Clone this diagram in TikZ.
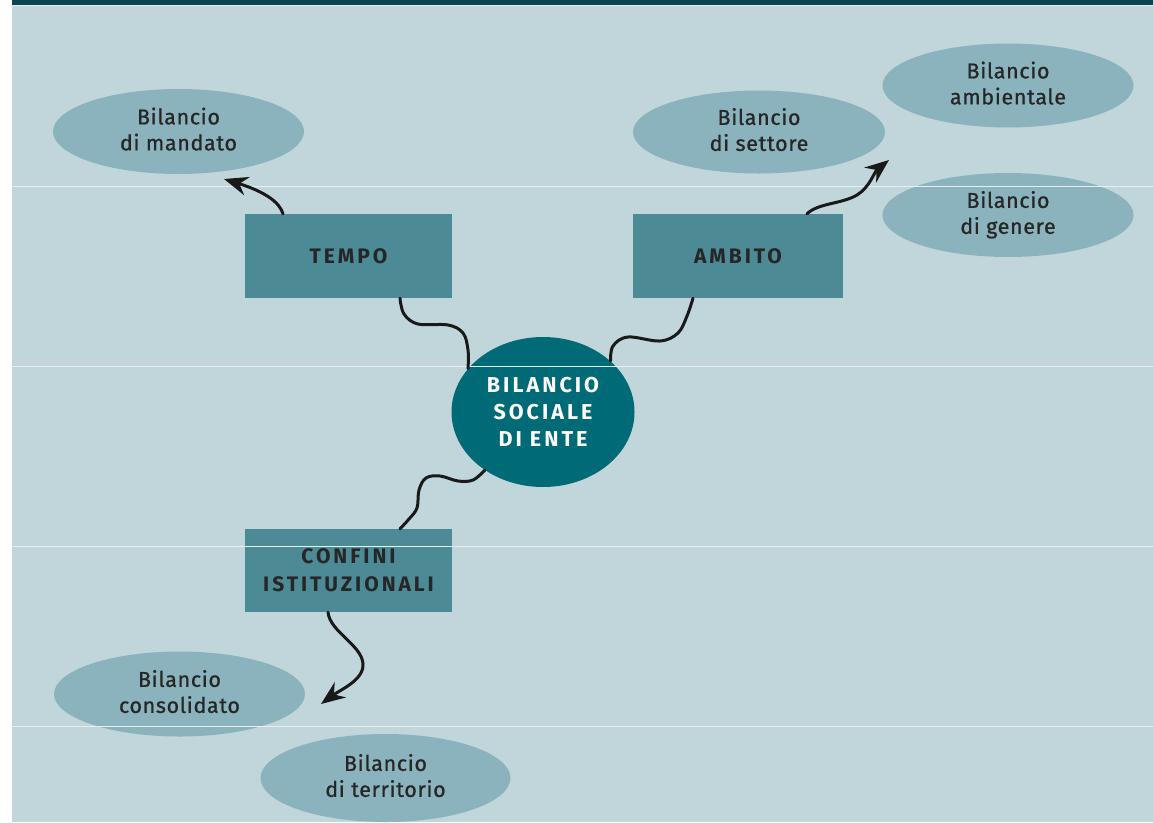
\documentclass[tikz,border=0pt]{standalone}
\usepackage{fontspec}
\setmainfont{Fira Sans}
\newfontfamily\ovalfont[LetterSpace=3,FakeBold=0.8]{Fira Sans}
\newfontfamily\capsfont[LetterSpace=14]{Fira Sans}
\usetikzlibrary{arrows.meta,calc,shapes.geometric}

\definecolor{panelbg}{HTML}{C1D6DB}
\definecolor{topbar}{HTML}{0B4450}
\definecolor{ovalfill}{HTML}{8BB3BD}
\definecolor{boxfill}{HTML}{4C8A96}
\definecolor{corefill}{HTML}{006B77}
\definecolor{inktext}{HTML}{262626}
\definecolor{rule}{HTML}{E6EEF0}

\tikzset{
  oval/.style={ellipse, fill=ovalfill, minimum width=251pt, minimum height=85pt,
    inner sep=0pt, text=inktext, align=center,
    font=\ovalfont\fontsize{21.5pt}{26pt}\selectfont,
    execute at end node={\rule[-5pt]{0pt}{5pt}}},
  topic/.style={rectangle, fill=boxfill, minimum width=207pt, minimum height=84pt,
    inner sep=0pt, text=inktext, align=center,
    font=\capsfont\bfseries\fontsize{21pt}{28pt}\selectfont},
  core/.style={ellipse, fill=corefill, minimum width=183pt, minimum height=150pt,
    inner sep=0pt, text=white, align=center,
    font=\capsfont\bfseries\fontsize{21.5pt}{27pt}\selectfont},
  wire/.style={draw=black!90, line width=3pt, line cap=round, line join=round},
  tipped/.style={wire, -{Stealth[length=24pt,width=19pt,inset=8pt]}},
  gridrule/.style={draw=rule, line width=1pt},
}

\begin{document}
\begin{tikzpicture}[x=1pt,y=-1pt]
  \useasboundingbox (0,0) rectangle (1153,822);
  \fill[white] (0,0) rectangle (1153,822);
  % panel and header band
  \fill[panelbg] (12,5) rectangle (1153,822);
  \fill[topbar] (12,0) rectangle (1153,5);
  \draw[rule, line width=0.8pt] (12,5.6) -- (1153,5.6);

  % central node
  \node[core] (center) at (543,412) {BILANCIO\\SOCIALE\\DI ENTE};

  % dimension boxes
  \node[topic] (tempo) at (348.5,256) {TEMPO};
  \node[topic, minimum width=210pt] (ambito) at (738,256) {AMBITO};
  \node[topic, minimum height=83pt] (confini) at (348.5,570.5) {CONFINI\\ISTITUZIONALI};

  % report types
  \node[oval] (mandato) at (178.5,131.5) {Bilancio\\di mandato};
  \node[oval, minimum width=252pt, minimum height=83pt] (settore) at (759,132) {Bilancio\\di settore};
  \node[oval, minimum width=251pt, minimum height=84pt] (ambientale) at (1008,85.5) {Bilancio\\ambientale};
  \node[oval, minimum width=251pt, minimum height=84pt] (genere) at (1008,215) {Bilancio\\di genere};
  \node[oval] (consolidato) at (179.5,694) {Bilancio\\consolidato};
  \node[oval, minimum width=250pt, minimum height=88pt] (territorio) at (385.5,778) {Bilancio\\di territorio};

  % horizontal guide rules
  \foreach \yy in {186,366,546,726}
    \draw[gridrule] (12,\yy) -- (1153,\yy);

  % free arrow ends
  \coordinate (endmandato) at (224,179);
  \coordinate (endambito) at (889,160);
  \coordinate (endconfini) at (321,704);

  % wavy links between the boxes and the central node
  \draw[wire] plot[smooth, tension=0.6] coordinates {
    ([xshift=51.5pt]tempo.south) (404,314) (418,324) (448,325) (463,333) (468,350) (center.150)};
  \draw[wire] plot[smooth, tension=0.6] coordinates {
    ([xshift=-45pt]ambito.south) (687,316) (678,333) (660,341) (628,337) (613,346) (center.37)};
  \draw[wire] plot[smooth, tension=0.6] coordinates {
    (center.225) (473,480) (458,481) (440,476) (426,478) (419,490) (417,508) (409,519)
    ([xshift=51.5pt]confini.north)};

  % arrows towards the report types
  \draw[tipped] ([xshift=-65.5pt]tempo.north)
    .. controls (280,203) and (266,192) .. (endmandato);
  \draw[tipped] ([xshift=69pt]ambito.north)
    .. controls (818,203) and (842,204) .. (857,195)
    .. controls (870,187) and (874,172) .. (endambito);
  \draw[tipped] ([xshift=-20.5pt]confini.south)
    .. controls (330,632) and (362,645) .. (363,664)
    .. controls (364,680) and (340,690) .. (endconfini);
\end{tikzpicture}
\end{document}
